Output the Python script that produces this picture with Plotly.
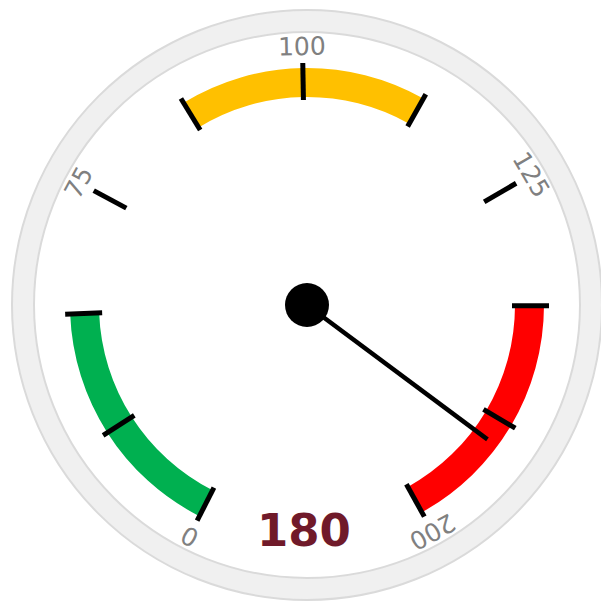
import numpy as np
import plotly.graph_objects as go

# ---- data ----
value = 180
scale_values = [0, 75, 100, 125, 200]          # gauge scale breakpoints
scale_angles = [-153, -61.8, -1, 59.8, 151]     # compass angle (deg) of each breakpoint
tick_values = [0, 25, 50, 75, 87.5, 100, 112.5, 125, 150, 175, 200]
label_values = [0, 75, 100, 125, 200]
label_text = ["0", "75", "100", "125", "200"]
band_from = [0, 87.5, 150]
band_to = [50, 112.5, 200]
band_colors = ["#00b050", "#ffc000", "#ff0000"]

# ---- geometry (figure px; body margin removed) ----
W, H = 601, 603
CX, CY = 307, 305          # gauge centre in figure pixels (from top-left)
R = 294                    # polar radius in px; radial axis in px units
dom_x = [(CX - R) / W, (CX + R) / W]
dom_y = [(H - CY - R) / H, (H - CY + R) / H]


def ang(v):
    return np.interp(v, scale_values, scale_angles)


def to_paper(r, theta):
    t = np.radians(theta)
    return (CX + r * np.sin(t)) / W, (H - CY + r * np.cos(t)) / H


fig = go.Figure()

# bands
b0 = ang(np.array(band_from))
b1 = ang(np.array(band_to))
fig.add_trace(go.Barpolar(
    theta=(b0 + b1) / 2, width=b1 - b0, base=[208] * len(band_from),
    r=[29] * len(band_from), marker=dict(color=band_colors, line=dict(width=0)),
    hoverinfo="skip", showlegend=False))

# ticks
tr, tt = [], []
for v in tick_values:
    a = float(ang(v))
    tr += [205, 242, None]
    tt += [a, a, None]
fig.add_trace(go.Scatterpolar(r=tr, theta=tt, mode="lines",
                              line=dict(color="black", width=5),
                              hoverinfo="skip", showlegend=False))

# needle
na = float(ang(value))
fig.add_trace(go.Scatterpolar(r=[0, 225], theta=[na, na], mode="lines",
                              line=dict(color="black", width=4.5),
                              hoverinfo="skip", showlegend=False))
fig.add_trace(go.Scatterpolar(r=[0], theta=[0], mode="markers",
                              marker=dict(color="black", size=44),
                              hoverinfo="skip", showlegend=False))

# outer ring (decoration)
cxp, cyp = CX / W, (H - CY) / H
shapes = []
for rr, col, lw in [(284, "#f0f0f0", 21), (273, "#dadada", 2), (295, "#dadada", 2)]:
    shapes.append(dict(type="circle", xref="paper", yref="paper",
                       x0=cxp - rr / W, x1=cxp + rr / W,
                       y0=cyp - rr / H, y1=cyp + rr / H,
                       line=dict(color=col, width=lw), layer="below"))

# labels
annotations = []
for v, txt in zip(label_values, label_text):
    a = float(ang(v))
    x, y = to_paper(259, a)
    annotations.append(dict(x=x, y=y, xref="paper", yref="paper", text=txt,
                            showarrow=False, textangle=a,
                            xanchor="center", yanchor="middle",
                            font=dict(family="DejaVu Sans, Verdana", size=25,
                                      color="#808080")))
annotations.append(dict(x=(CX - 3) / W, y=(H - 530) / H, xref="paper", yref="paper",
                        text="<b>%d</b>" % value, showarrow=False,
                        xanchor="center", yanchor="middle",
                        font=dict(family="DejaVu Sans, Verdana", size=45,
                                  color="#701a2a")))

fig.update_layout(
    width=W, height=H, autosize=False,
    margin=dict(l=0, r=0, t=0, b=0),
    paper_bgcolor="white",
    shapes=shapes, annotations=annotations,
    polar=dict(
        domain=dict(x=dom_x, y=dom_y),
        bgcolor="rgba(0,0,0,0)",
        radialaxis=dict(range=[0, R], visible=False, showgrid=False,
                        showline=False, showticklabels=False, ticks=""),
        angularaxis=dict(rotation=90, direction="clockwise", showgrid=False,
                         showline=False, showticklabels=False, ticks=""),
    ),
)

fig.write_html("out.html",
               config={"displayModeBar": False},
               post_script="document.body.style.margin='0';"
                           "document.body.style.overflow='hidden';")
